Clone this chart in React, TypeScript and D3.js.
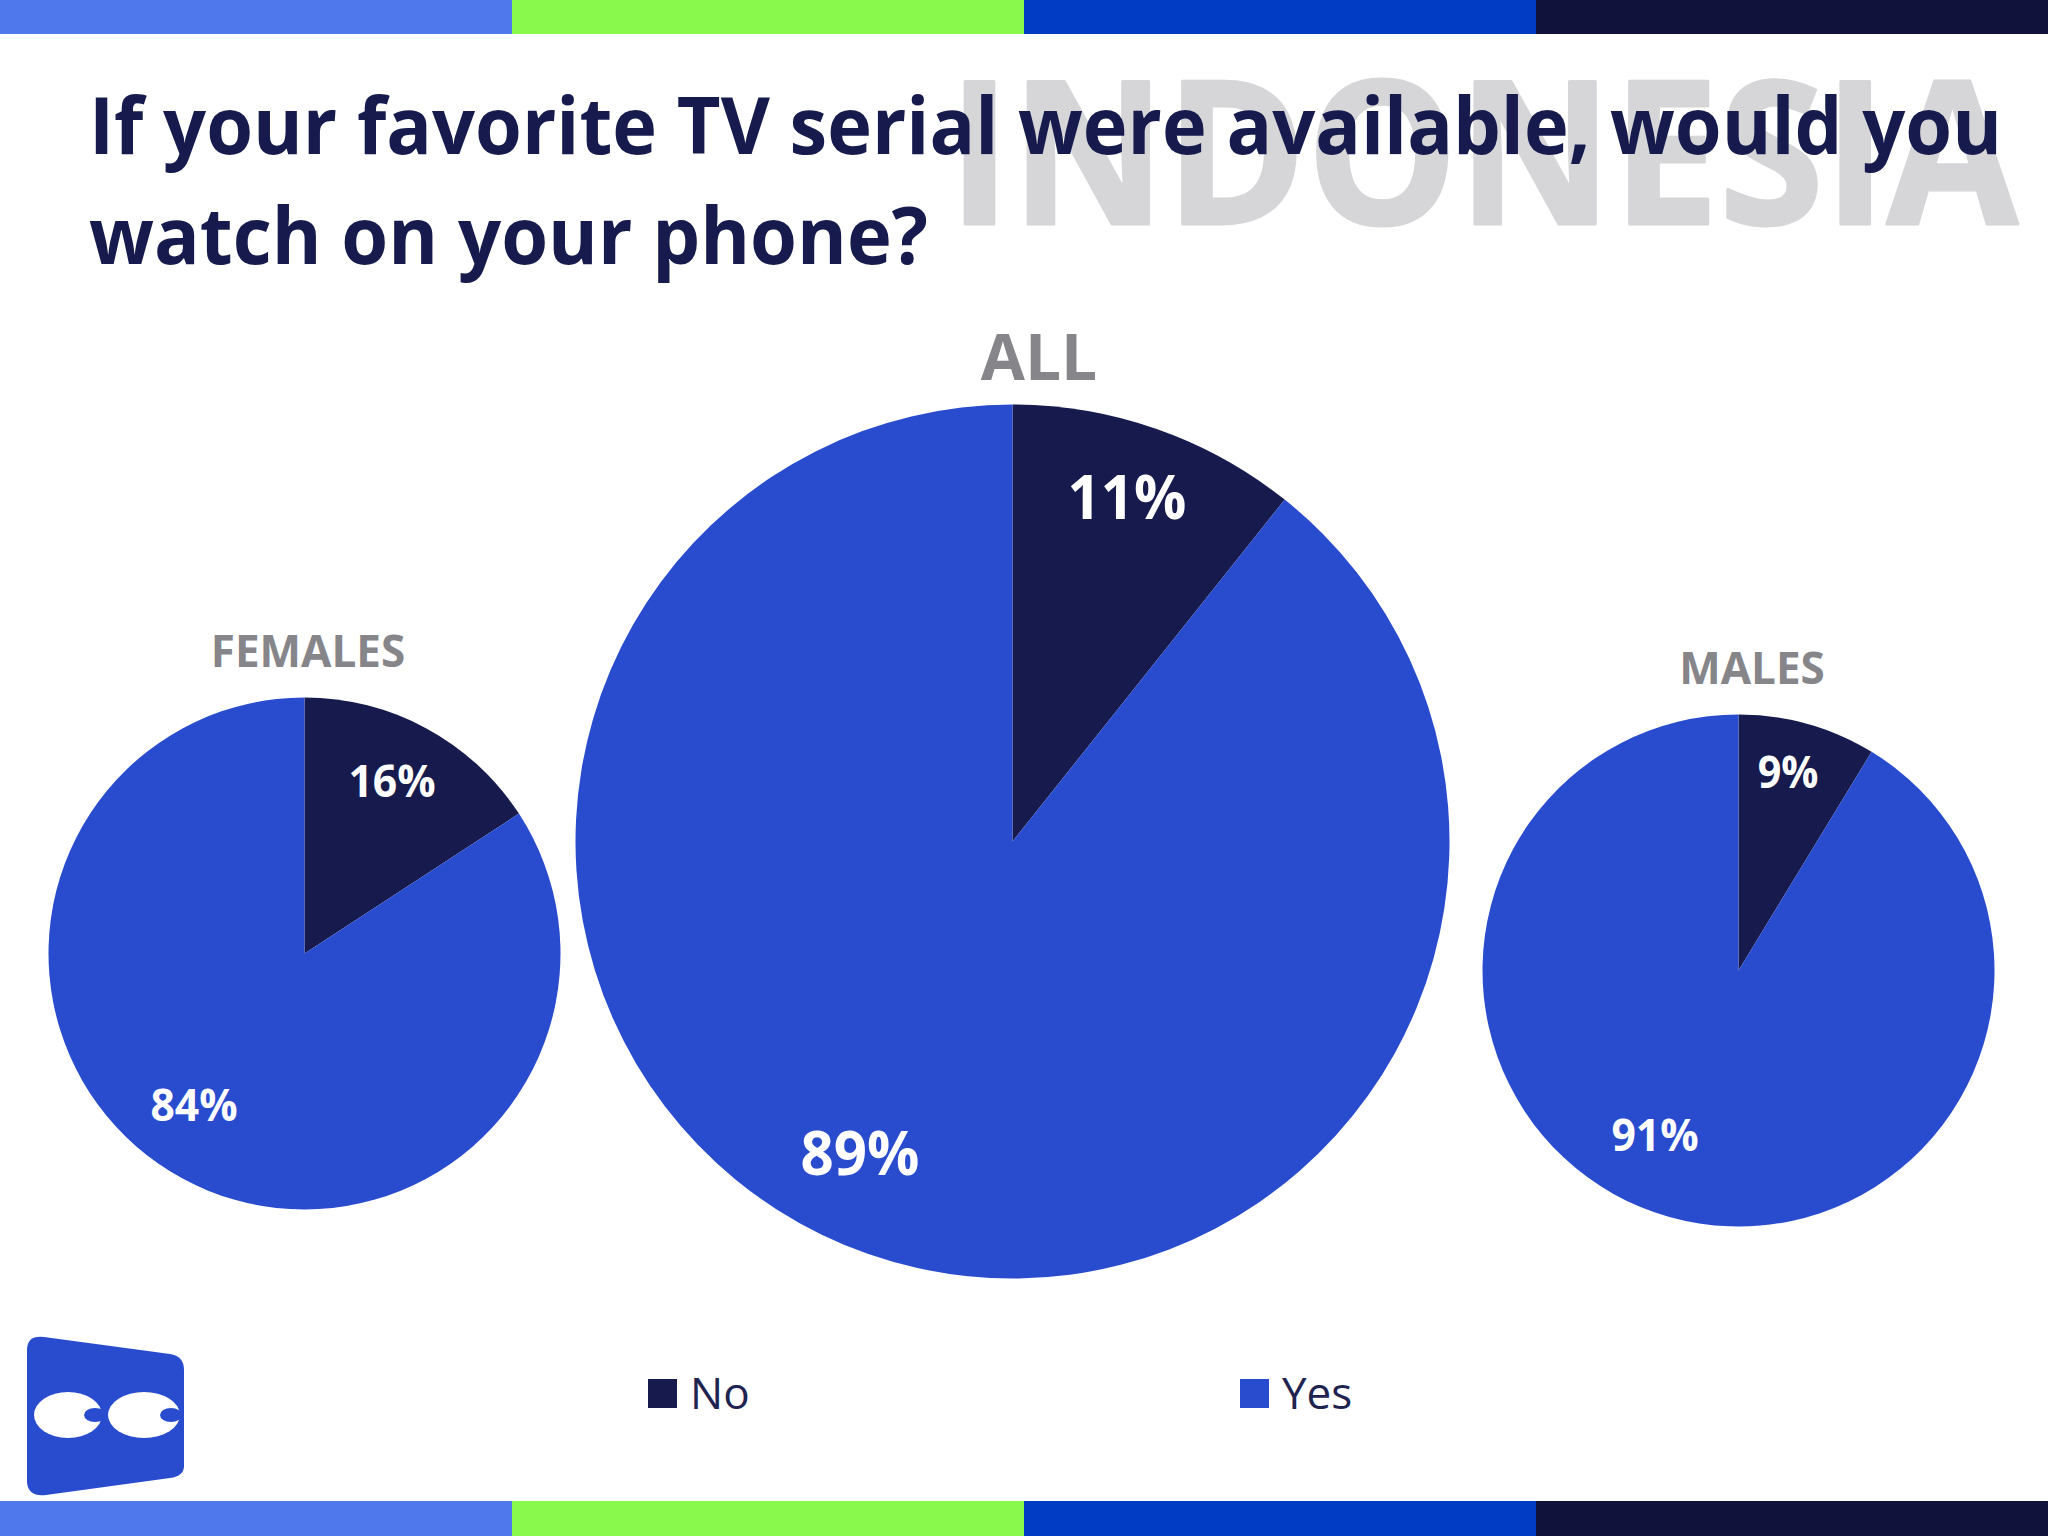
import React from "react";
import * as d3 from "d3";

const W = 2048, H = 1536;
const categories = ["No", "Yes"];
const panelNames = ["FEMALES", "ALL", "MALES"];
const femalesValues = [15.8, 84.2];
const allValues = [10.7, 89.3];
const malesValues = [8.7, 91.3];
const femalesLabels = ["16%", "84%"];
const allLabels = ["11%", "89%"];
const malesLabels = ["9%", "91%"];
const titleLines = ["If your favorite TV serial were available, would you", "watch on your phone?"];
const titleWidths = [1913, 839];
const barColors = ["#4f78ec", "#89f94c", "#003cc4", "#10123c"];

const colorScale = d3.scaleOrdinal<string, string>().domain(categories).range(["#161a4d", "#294ccf"]);
const FONT = "'Open Sans', sans-serif";

type Panel = {
  name: string; values: number[]; labels: string[];
  cx: number; cy: number; r: number;
  titleX: number; titleY: number; titleSize: number; labelSize: number;
  labelPos: [number, number][];
};

const panels: Panel[] = [
  { name: panelNames[0], values: femalesValues, labels: femalesLabels, cx: 304.5, cy: 953.5, r: 256,
    titleX: 308, titleY: 667, titleSize: 44, labelSize: 44, labelPos: [[392, 797], [194, 1121]] },
  { name: panelNames[1], values: allValues, labels: allLabels, cx: 1012.5, cy: 841.5, r: 437,
    titleX: 1039, titleY: 380, titleSize: 64, labelSize: 60, labelPos: [[1127, 519], [860, 1175]] },
  { name: panelNames[2], values: malesValues, labels: malesLabels, cx: 1738.5, cy: 970.5, r: 256,
    titleX: 1752, titleY: 684, titleSize: 44, labelSize: 44, labelPos: [[1788, 788], [1655, 1151]] },
];

const pieGen = d3.pie<number>().sort(null);
const arcGen = d3.arc<d3.PieArcDatum<number>>().innerRadius(0);

function PiePanel({ p }: { p: Panel }) {
  const arcs = pieGen(p.values);
  return (
    <g>
      <text x={p.titleX} y={p.titleY} textAnchor="middle" fontFamily={FONT} fontWeight={700} fontSize={p.titleSize} fill="#85858a">{p.name}</text>
      <g transform={`translate(${p.cx},${p.cy})`}>
        {arcs.map((a, i) => (
          <path key={i} d={arcGen.outerRadius(p.r)(a) as string} fill={colorScale(categories[i])} />
        ))}
      </g>
      {p.labels.map((l, i) => (
        <text key={i} x={p.labelPos[i][0]} y={p.labelPos[i][1]} textAnchor="middle" fontFamily={FONT} fontWeight={700} fontSize={p.labelSize} fill="#ffffff" textLength={p.labelSize * (l.length === 2 ? 1.38 : 1.98)} lengthAdjust="spacingAndGlyphs">{l}</text>
      ))}
    </g>
  );
}

export default function App() {
  const barX = d3.scaleBand<number>().domain(d3.range(barColors.length)).range([0, W]);
  const legendX = [648, 1240];
  return (
    <svg width={W} height={H} viewBox={`0 0 ${W} ${H}`} style={{ position: "absolute", left: 0, top: 0, background: "#fff" }}>
      {barColors.map((c, i) => (
        <g key={c}>
          <rect x={barX(i)} y={0} width={barX.bandwidth()} height={34} fill={c} />
          <rect x={barX(i)} y={1501} width={barX.bandwidth()} height={35} fill={c} />
        </g>
      ))}
      <text x={948} y={224} fontFamily={FONT} fontWeight={700} fontSize={200} fill="#d6d6d9" stroke="#d6d6d9" strokeWidth={3} strokeLinejoin="round" textLength={1070} lengthAdjust="spacingAndGlyphs">INDONESIA</text>
      {titleLines.map((t, i) => (
        <text key={t} x={89} y={154 + i * 110} fontFamily={FONT} fontWeight={700} fontSize={78} fill="#161a4d" textLength={titleWidths[i]} lengthAdjust="spacingAndGlyphs">{t}</text>
      ))}
      {panels.map((p) => <PiePanel key={p.name} p={p} />)}
      {categories.map((c, i) => (
        <g key={c}>
          <rect x={legendX[i]} y={1379} width={29} height={29} fill={colorScale(c)} />
          <text x={legendX[i] + 42} y={1409} fontFamily={FONT} fontSize={44} fill="#1f2350">{c}</text>
        </g>
      ))}
      <g>
        <path d="M27 1350 Q27 1335 44 1337 L170 1354 Q184 1356 184 1370 L184 1466 Q184 1476 170 1478 L46 1495 Q28 1497 27 1482 Z" fill="#294ccf" />
        <ellipse cx={68} cy={1415} rx={34} ry={23} fill="#fff" />
        <ellipse cx={144} cy={1415} rx={36} ry={23} fill="#fff" />
        <ellipse cx={95} cy={1415} rx={11} ry={7} fill="#294ccf" />
        <ellipse cx={171} cy={1415} rx={11} ry={7} fill="#294ccf" />
      </g>
    </svg>
  );
}
